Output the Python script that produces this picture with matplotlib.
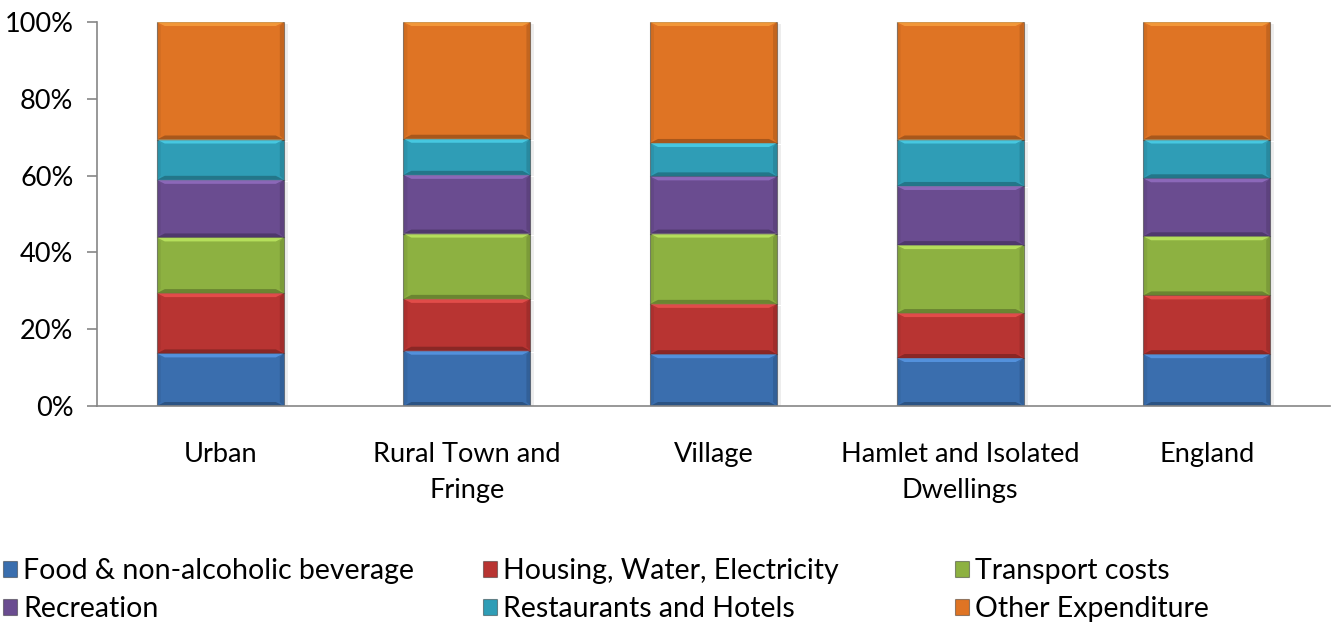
import numpy as np
import matplotlib.pyplot as plt
from matplotlib.patches import Polygon
from matplotlib.ticker import PercentFormatter
import matplotlib.colors as mcolors

plt.rcParams['font.family'] = ['Lato', 'DejaVu Sans']

# === data (share of spend, %) ===
areas = ['Urban', 'Rural Town and\nFringe', 'Village', 'Hamlet and Isolated\nDwellings', 'England']
series = ['Food & non-alcoholic beverage', 'Housing, Water, Electricity', 'Transport costs',
          'Recreation', 'Restaurants and Hotels', 'Other Expenditure']
food = [13.7, 14.4, 13.5, 12.5, 13.5]
housing = [15.7, 13.5, 13.1, 11.7, 15.3]
transport = [14.5, 17.0, 18.3, 17.7, 15.4]
recreation = [15.0, 15.3, 14.9, 15.4, 15.1]
restaurants = [10.5, 9.4, 8.7, 12.1, 10.1]
other = [30.6, 30.4, 31.5, 30.6, 30.6]

colors = ['#3a6eae', '#b83432', '#8db141', '#6a4c90', '#2f9db6', '#df7424']
FS = 19.5
LEG_FS = 20.5

W, H = 1332, 623
fig = plt.figure(figsize=(W / 100, H / 100), dpi=100)
ax = fig.add_axes([97 / W, (H - 406) / H, 1233 / W, 384 / H])

x = np.arange(len(areas))
bar_w = 0.515
px_x = 5 / 1233    # data units per pixel (x)
px_y = 100 / 384   # data units per pixel (y)
bottom = np.zeros(len(areas))
handles = []
for name, vals, col in zip(series, [food, housing, transport, recreation, restaurants, other], colors):
    vals = np.array(vals)
    bars = ax.bar(x, vals, bar_w, bottom=bottom, color=col, edgecolor=mcolors.to_rgba('#222222', 0.45),
                  linewidth=0.8, label=name, zorder=2)
    handles.append(bars)
    rgb = np.array(mcolors.to_rgb(col))
    light = mcolors.to_rgba(np.clip(rgb * 1.3 + 0.1, 0, 1), 0.6)
    dark = mcolors.to_rgba(rgb * 0.55, 0.55)
    bx, by = 8 * px_x, 4 * px_y
    for p in bars.patches:
        x0, y0, w, h = p.get_x(), p.get_y(), p.get_width(), p.get_height()
        top = y0 + h
        # soft drop shadow to the right
        ax.add_patch(Polygon([[x0 + w, y0 - 1.5 * px_y], [x0 + w + 4 * px_x, y0 - 1.5 * px_y],
                              [x0 + w + 4 * px_x, top - 2 * px_y], [x0 + w, top - 2 * px_y]],
                             closed=True, facecolor=mcolors.to_rgba('black', 0.07), edgecolor='none', zorder=1))
        # bevel: light top edge, dark bottom edge, darker sides
        ax.add_patch(Polygon([[x0, top], [x0 + w, top], [x0 + w - bx, top - by], [x0 + bx, top - by]],
                             closed=True, facecolor=light, edgecolor='none', zorder=3))
        ax.add_patch(Polygon([[x0, y0], [x0 + w, y0], [x0 + w - bx, y0 + by], [x0 + bx, y0 + by]],
                             closed=True, facecolor=dark, edgecolor='none', zorder=3))
        ax.add_patch(Polygon([[x0 + w, y0], [x0 + w, top], [x0 + w - bx * 0.5, top - by], [x0 + w - bx * 0.5, y0 + by]],
                             closed=True, facecolor=mcolors.to_rgba('black', 0.12), edgecolor='none', zorder=3))
        ax.add_patch(Polygon([[x0, y0], [x0, top], [x0 + bx * 0.5, top - by], [x0 + bx * 0.5, y0 + by]],
                             closed=True, facecolor=mcolors.to_rgba('black', 0.06), edgecolor='none', zorder=3))
    bottom += vals

ax.set_xlim(-0.5, len(areas) - 0.5)
ax.set_ylim(0, 100)
ax.set_yticks(np.arange(0, 101, 20))
ax.yaxis.set_major_formatter(PercentFormatter(decimals=0))
ax.set_xticks(x)
ax.set_xticklabels(areas, fontsize=FS, linespacing=1.55)
ax.tick_params(axis='x', length=0, pad=26)
ax.tick_params(axis='y', labelsize=FS, length=7, color='#868686', width=1.2, pad=10)
for s in ['top', 'right']:
    ax.spines[s].set_visible(False)
for s in ['left', 'bottom']:
    ax.spines[s].set_color('#868686')
    ax.spines[s].set_linewidth(1.2)
ax.spines['bottom'].set_zorder(4)

# legend laid out in three columns, row-wise like the original
cols_x = [3 / W, 483 / W, 955 / W]
for i, cx in enumerate(cols_x):
    hs = [handles[i], handles[i + 3]]
    fig.legend(hs, [series[i], series[i + 3]], loc='upper left', bbox_to_anchor=(cx, 1 - 558 / H),
               ncol=1, frameon=False, fontsize=LEG_FS, handlelength=0.5, handleheight=0.5,
               handletextpad=0.2, labelspacing=0.42, borderaxespad=0, borderpad=0)

fig.savefig('out.png', dpi=100)
